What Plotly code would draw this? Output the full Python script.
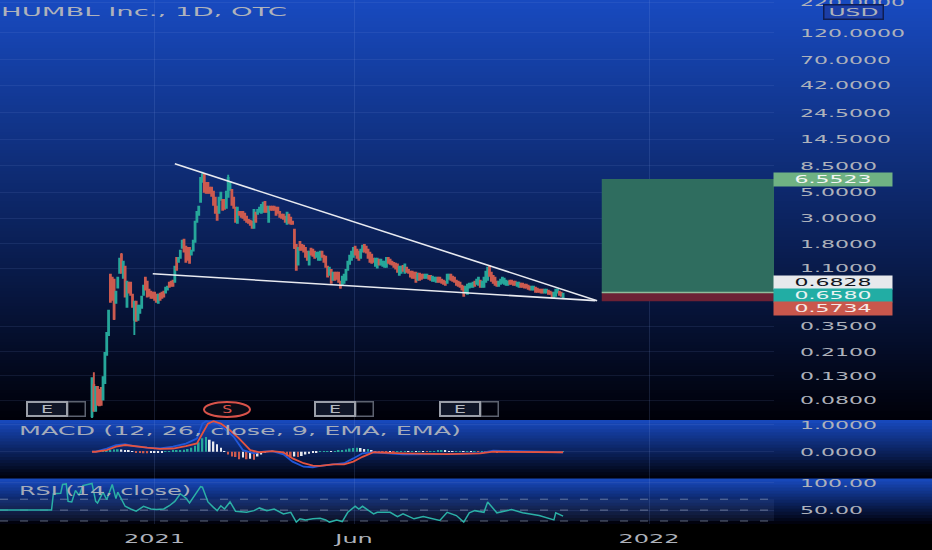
import math
import plotly.graph_objects as go

# ---------- data ----------
opens = [.058,.108,.0645,.104,.098,.102,.081,.1125,.197,.293,
 .97,.916,.88,.557,.751,1.01,1.45,.916,1.14,.514,
 .829,.829,.653,.397,.568,.397,.456,.504,.653,.916,
 .846,.722,.693,.68,.68,.653,.557,.666,.68,.693,
 .68,.722,.829,.846,.863,.846,1.36,1.26,1.36,1.66,
 1.95,1.70,1.66,1.66,1.45,1.57,1.87,2.79,3.21,4.15,
 6.18,7.25,6.06,6.06,5.49,5.49,5.07,4.50,3.76,3.34,
 4.32,4.32,4.32,3.69,4.59,5.27,5.27,4.50,3.69,2.74,
 3.40,3.40,3.40,3.27,3.08,2.90,2.85,2.79,2.48,3.34,
 3.27,3.40,3.34,3.40,4.15,3.76,2.79,3.76,3.76,3.76,
 3.69,3.69,3.40,3.21,3.21,3.08,2.68,3.21,3.02,2.79,
 2.38,1.76,1.19,1.87,1.76,1.73,1.66,1.54,1.19,1.63,
 1.60,1.54,1.39,1.31,1.31,1.54,1.42,1.39,1.14,.97,
 1.07,.88,1.01,1.01,1.01,.846,.797,.829,.88,1.07,
 1.21,1.31,1.39,1.70,1.60,1.54,1.36,1.54,1.76,1.70,
 1.60,1.51,1.45,1.34,1.16,1.12,1.31,1.19,1.16,1.14,
 1.14,1.36,1.31,1.26,1.23,1.21,1.19,.97,1.01,1.16,
 1.01,1.12,1.07,1.03,1.03,1.01,1.01,.88,.99,.97,
 .97,.916,.916,.95,.95,.863,.863,.846,.916,.916,
 .88,.863,.846,.829,.898,.97,.935,.916,.863,.846,
 .829,.781,.766,.68,.666,.751,.766,.766,.846,.813,
 .797,.863,.766,.766,.846,.88,1.16,1.01,.95,.916,
 .846,.781,.813,.829,.813,.797,.797,.863,.863,.846,
 .846,.781,.766,.813,.813,.797,.797,.781,.766,.722,
 .722,.751,.736,.722,.722,.722,.68,.68,.707,.693,
 .68,.615,.64,.68,.693,.68,.615]
closes = [.124,.0645,.104,.073,.072,.073,.1265,.2046,.305,.475,
 .568,.591,.405,.693,.916,1.34,1.01,1.26,.628,.846,
 .68,.653,.514,.568,.389,.525,.525,.628,.781,.722,
 .628,.64,.615,.615,.591,.568,.653,.591,.615,.628,
 .751,.766,.766,.781,.781,1.14,1.07,1.36,1.57,1.91,
 1.54,1.26,1.31,1.23,1.57,1.91,2.79,3.40,3.76,6.69,
 7.11,5.07,4.97,4.97,4.97,4.68,3.91,3.34,2.90,4.50,
 4.97,3.54,3.61,5.07,6.69,6.18,3.91,3.69,2.79,3.69,
 3.21,3.08,3.02,2.90,2.79,2.74,2.63,2.48,3.54,2.79,
 3.54,3.69,3.91,4.07,3.40,3.40,3.76,3.54,3.54,3.54,
 3.21,3.34,3.08,3.02,2.96,2.79,3.34,2.74,2.68,2.68,
 1.66,1.07,1.66,1.60,1.60,1.54,1.39,1.31,1.54,1.45,
 1.42,1.36,1.51,1.51,1.54,1.39,1.26,1.14,.935,1.12,
 .829,1.01,.88,.898,.846,.751,.935,.97,1.07,1.26,
 1.42,1.54,1.66,1.45,1.36,1.31,1.60,1.73,1.54,1.51,
 1.36,1.26,1.23,1.26,1.34,1.34,1.19,1.31,1.26,1.26,
 1.36,1.23,1.21,1.19,1.14,1.10,1.03,1.14,1.14,1.05,
 1.19,1.03,1.01,.935,.916,.916,.846,.99,.88,.898,
 .916,.97,.97,.898,.88,.935,.916,.916,.846,.846,
 .829,.813,.797,.97,.97,.88,.863,.846,.797,.781,
 .766,.722,.64,.766,.797,.813,.813,.829,.781,.88,
 .916,.766,.846,.916,1.03,1.12,.95,.863,.829,.797,
 .781,.846,.88,.916,.898,.863,.846,.813,.813,.797,
 .797,.829,.829,.766,.766,.751,.751,.736,.722,.766,
 .766,.693,.693,.693,.68,.68,.722,.722,.666,.666,
 .615,.68,.722,.722,.653,.64,.666]
wick_highs = {1:.139, 16:1.50, 60:7.54, 74:7.11, 216:1.18, 252:.735}
wick_lows = {0:.056, 23:.293, 12:.395, 61:5.0, 110:1.62, 135:.736, 202:.635, 256:.61}

macd_x = [0,2,8,13,18,22,30,37,44,51,57,60,62,68,73,77,82,88,93,98,104,109,115,120,124,131,137,142,147,153,169,193,211,218,236,256]
macd_vals = [0,0,.12,.25,.28,.22,.15,.12,.19,.30,.49,1.05,1.14,1.05,.80,.56,.06,-.06,0,.02,-.10,-.37,-.56,-.58,-.53,-.47,-.43,-.25,-.06,-.02,-.10,-.09,-.05,.04,0,-.02]
signal_x = [0,2,8,13,18,22,30,37,44,51,57,60,63,66,70,75,80,86,91,98,104,109,115,120,124,131,137,142,147,153,169,193,211,218,236,256]
signal_vals = [0,0,.06,.19,.25,.21,.15,.11,.12,.21,.31,.68,1.05,1.14,1.05,.80,.49,.06,-.02,.02,-.02,-.25,-.43,-.52,-.53,-.47,-.47,-.37,-.19,-.02,-.06,-.09,-.06,0,0,-.02]
hist_start = 4
hist_step = 2
hist_vals = [.02,.04,.06,.07,.08,.09,.08,.06,.04,.02,-.02,-.04,-.06,-.06,-.05,-.04,-.03,-.02,.01,.02,
 .03,.05,.06,.07,.10,.15,.22,.35,.50,.55,.45,.38,.28,.15,.02,-.10,-.18,-.20,-.28,-.22,
 -.28,-.26,-.30,-.18,-.10,-.05,.02,.03,.005,-.05,-.12,-.18,-.22,-.18,-.20,-.16,-.10,-.08,-.05,-.03,
 .01,.01,.02,.01,.02,.03,.05,.08,.12,.14,.15,.14,.10,.10,.06,.02,-.01,-.02,-.02,-.01,
 -.01,.01,.01,.02,.01,.02,.01,.02,.01,-.01,.01,.02,.03,.04,.03,.02,.01,.02,.02,.01,
 .01,.005,.01,-.01,.01,-.01,.02,.01,-.02,-.01,.01,.02,-.01,.01,.02,.01,-.01,.01,.01,.01,.01,-.01,-.01,-.01,-.01,-.01,.005]
rsi_x = [-50,-22,-21,-17,-16,-14,-13,-11,-9,-7,-5,0,2,3,6,8,11,13,14,18,21,24,28,32,35,39,42,45,48,51,53,56,59,60,63,66,68,70,72,75,78,84,88,91,95,99,104,108,111,113,116,120,124,127,129,133,136,139,143,145,147,153,155,162,166,169,175,180,189,193,198,202,205,208,213,215,220,228,234,243,251,252,256]
rsi_vals = [50,50,80,81,97,98,66,65,86,77,95,99,66,63,83,69,97,71,83,57,52,48,57,52,51,52,58,66,80,72,63,77,93,92,65,55,49,58,52,65,48,46,49,54,49,52,43,46,28,34,32,34,35,32,28,32,29,46,57,52,57,43,46,46,38,43,34,38,31,46,40,28,45,49,46,65,45,51,45,40,32,45,39]

upper_line_x = [45, 274.5]
upper_line_y = [8.85, .58]
lower_line_x = [33, 273.5]
lower_line_y = [.99, .58]
position_left = 277
position_right = 370.6
target_price = 6.5523
entry_price = 0.6828
stop_price = 0.5734

price_ticks = [220,120,70,42,24.5,14.5,8.5,5,3,1.8,1.1,.35,.21,.13,.08]
price_labels = ["220.0000","120.0000","70.0000","42.0000","24.5000","14.5000","8.5000","5.0000","3.0000","1.8000","1.1000","0.3500","0.2100","0.1300","0.0800"]
macd_ticks = [1,0]
macd_labels = ["1.0000","0.0000"]
rsi_ticks = [100,50]
rsi_labels = ["100.00","50.00"]
time_ticks = [34, 142.4, 302.7]
time_labels = ["2021","Jun","2022"]

# ---------- page geometry ----------
W, H = 932, 550
PR = 774 / W
def py(v):
    return 1 - v / H
def lerp(a, b, t):
    return tuple(round(a[i] + (b[i] - a[i]) * t) for i in range(3))
TOP = (24, 74, 192)
BOTTOM = (0, 0, 8)

idx = list(range(len(closes)))
highs = [max(wick_highs.get(i, 0), opens[i], closes[i]) for i in idx]
lows = [min(wick_lows.get(i, 9e9), opens[i], closes[i]) for i in idx]

fig = go.Figure()
TEAL = "#26a69a"
RED = "#cc5a4f"

# position boxes
fig.add_trace(go.Scatter(x=[position_left, position_right, position_right, position_left, position_left],
    y=[target_price, target_price, entry_price, entry_price, target_price],
    mode="lines", line=dict(width=0), fill="toself", fillcolor="#2f6d5f", xaxis="x", yaxis="y"))
fig.add_trace(go.Scatter(x=[position_left, position_right, position_right, position_left, position_left],
    y=[entry_price, entry_price, stop_price, stop_price, entry_price],
    mode="lines", line=dict(width=0), fill="toself", fillcolor="#6c2135", xaxis="x", yaxis="y"))
fig.add_trace(go.Scatter(x=[position_left, position_right], y=[entry_price, entry_price], mode="lines",
    line=dict(color="#8fbd9c", width=1.5), xaxis="x", yaxis="y"))

fig.add_trace(go.Candlestick(x=idx, open=opens, high=highs, low=lows, close=closes,
    increasing=dict(line=dict(color=TEAL, width=1.9), fillcolor=TEAL),
    decreasing=dict(line=dict(color=RED, width=1.9), fillcolor=RED),
    whiskerwidth=0, xaxis="x", yaxis="y"))

for lx, ly in ((upper_line_x, upper_line_y), (lower_line_x, lower_line_y)):
    fig.add_trace(go.Scatter(x=lx, y=ly, mode="lines", line=dict(color="#e8eaf0", width=1.6), xaxis="x", yaxis="y"))

# MACD
hist_x = [hist_start + i * hist_step for i in range(len(hist_vals))]
hist_colors = []
for i, v in enumerate(hist_vals):
    prev = hist_vals[i - 1] if i else 0
    if v >= 0:
        hist_colors.append(TEAL if v >= prev else "#e6e8ee")
    else:
        hist_colors.append(RED if v <= prev else "#e6e8ee")
fig.add_trace(go.Bar(x=hist_x, y=hist_vals, marker=dict(color=hist_colors, line=dict(width=0)), width=0.9, xaxis="x", yaxis="y2"))
fig.add_trace(go.Scatter(x=macd_x, y=macd_vals, mode="lines", line=dict(color="#2157d8", width=1.8), xaxis="x", yaxis="y2"))
fig.add_trace(go.Scatter(x=signal_x, y=signal_vals, mode="lines", line=dict(color="#e5533f", width=1.8), xaxis="x", yaxis="y2"))

# RSI
fig.add_trace(go.Scatter(x=rsi_x, y=rsi_vals, mode="lines", line=dict(color="#2bb0a6", width=1.5), xaxis="x", yaxis="y3"))

# backgrounds: vertical gradient per pane
shapes = []
for y0, y1 in ((0, 420), (420, 478.5), (478.5, 524)):
    n = int((y1 - y0) / 3)
    for k in range(n):
        c = lerp(TOP, BOTTOM, (k + 0.5) / n)
        bottom = y0 + (y1 - y0) * (k + 1) / n + (1 if k < n - 1 else 0)
        shapes.append(dict(type="rect", xref="paper", yref="paper", x0=0, x1=1,
            y0=py(y0 + (y1 - y0) * k / n), y1=py(bottom),
            fillcolor="rgb(%d,%d,%d)" % c, line=dict(width=0), layer="below"))
# RSI band and levels
shapes.append(dict(type="rect", xref="paper", yref="y3", x0=0, x1=PR, y0=30, y1=70,
    fillcolor="rgba(120,140,200,0.10)", line=dict(width=0), layer="below"))
for lvl in (30, 50, 70):
    shapes.append(dict(type="line", xref="paper", yref="y3", x0=0, x1=PR, y0=lvl, y1=lvl,
        line=dict(color="rgba(170,180,200,0.55)", width=1, dash="8px,12px"), layer="below"))
# S marker ellipse
shapes.append(dict(type="circle", xref="paper", yref="paper", x0=204/W, x1=250/W, y0=py(417), y1=py(402),
    fillcolor="#0a0b16", line=dict(color="#d9534a", width=2)))

GRAY = "#aeb2bb"
ann = []
def text(x, y, s, size=12, color=GRAY, anchor="left", **kw):
    ann.append(dict(xref="paper", yref="paper", x=x/W, y=py(y), text=s, showarrow=False, xanchor=anchor,
        yanchor="middle", font=dict(family="DejaVu Sans", size=size, color=color), **kw))
text(0, 12, "HUMBL Inc., 1D, OTC", width=286, align="left", borderpad=0)
text(18, 431, "MACD (12, 26, close, 9, EMA, EMA)", color="#a5acba", width=442, align="left", borderpad=0)
text(18, 491, "RSI (14, close)", color="#a5acba", width=172, align="left", borderpad=0)
text(853, 12, "USD", size=11, anchor="center", bgcolor="#1c3ea6", bordercolor="#0f1d52", borderwidth=1.5, width=56, height=11)
for cx, y, s, bg, fg in ((833, 179, "6.5523", "#6fb283", "#f3f5f3"), (833, 282.5, "0.6828", "#e7e9ec", "#10131c"),
                         (833, 295, "0.6580", "#22ada4", "#e9f3f2"), (833, 308, "0.5734", "#c9574c", "#f6e8e6")):
    text(cx, y, s, size=11, color=fg, anchor="center", bgcolor=bg, width=116, height=11)
# earnings badges
for x0 in (27, 315, 440):
    text(x0 + 49, 409, "", size=10, anchor="center", bgcolor="rgba(0,0,0,0)", bordercolor="#5d6270", borderwidth=1.5, width=14, height=11)
    text(x0 + 20, 409, "E", size=10, anchor="center", color="#b5b9c2", bgcolor="#101628", bordercolor="#9b9fa9", borderwidth=2, width=36, height=10)
text(227, 409, "S", size=10, anchor="center", color="#d9534a")

axfont = dict(family="DejaVu Sans", size=11, color=GRAY)
grid = "rgba(120,150,220,0.13)"
def yax(domain, rng, vals, labels, typ="linear", anchor="x"):
    return dict(domain=domain, range=rng, type=typ, side="right", anchor=anchor, tickmode="array", tickvals=vals,
        ticktext=labels, ticks="", ticklabelstandoff=25, ticklabeloverflow="allow", tickfont=axfont, showgrid=True,
        gridcolor=grid, zeroline=False, showline=False, fixedrange=True)

fig.update_layout(
    width=W, height=H, margin=dict(l=0, r=0, t=0, b=0, pad=0, autoexpand=False), paper_bgcolor="#000000", plot_bgcolor="rgba(0,0,0,0)",
    showlegend=False, hovermode=False, barmode="overlay", shapes=shapes, annotations=ann,
    xaxis=dict(domain=[0, PR], range=[-50, 370.6], anchor="y3", rangeslider=dict(visible=False), tickmode="array",
        tickvals=time_ticks, ticktext=time_labels, ticks="", ticklabelstandoff=6, ticklabeloverflow="allow",
        tickfont=dict(family="DejaVu Sans", size=12, color=GRAY),
        showgrid=True, gridcolor="rgba(130,160,230,0.16)", zeroline=False, showline=False),
    yaxis=yax([py(420), 1], [-1.269, 2.364], price_ticks, price_labels, typ="log"),
    yaxis2=yax([py(478.5), py(420)], [-1.0, 1.185], macd_ticks, macd_labels),
    yaxis3=yax([py(524), py(478.5)], [24.5, 108], rsi_ticks, rsi_labels),
)

# The reference type is stretched sideways: widen every label by the same measure.
post = """
document.documentElement.style.margin = '0';
document.body.style.margin = '0';
document.body.style.overflow = 'hidden';
var root = document.getElementById('{plot_id}');
var exact = {'HUMBL Inc., 1D, OTC': 286, 'MACD (12, 26, close, 9, EMA, EMA)': 442, 'RSI (14, close)': 172,
             'USD': 50, 'E': 12, 'S': 10};
root.querySelectorAll('.ytick text, .y2tick text, .y3tick text, .xtick text, .annotation-text').forEach(function (t) {
  var s = t.textContent;
  if (!s) return;
  var w = t.getComputedTextLength();
  t.setAttribute('textLength', exact[s] || w * 2.0);
  t.setAttribute('lengthAdjust', 'spacingAndGlyphs');
});
"""
fig.write_html("out.html", post_script=post, config=dict(displayModeBar=False))
